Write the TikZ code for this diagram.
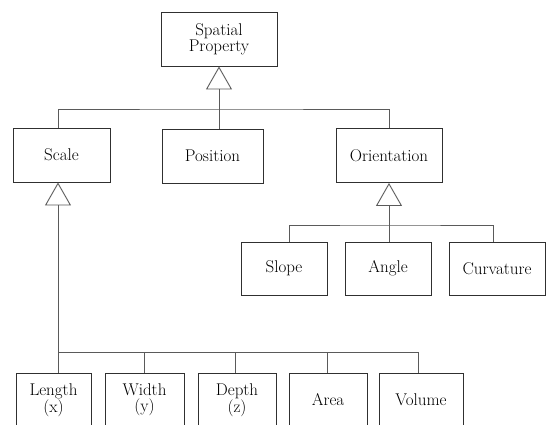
\documentclass[tikz,border=0pt]{standalone}
\usetikzlibrary{arrows.meta}
\definecolor{cbox}{HTML}{303030}
\definecolor{cline}{HTML}{5A5A5A}

\begin{document}
\begin{tikzpicture}[x=1pt, y=-1pt,
    every node/.style={draw=cbox, line width=0.9pt,
      minimum height=54pt, inner sep=0pt,
      font=\fontsize{17}{16}\selectfont, align=center},
    line/.style={draw=cline, line width=0.9pt},
    gen/.style={line, -{Triangle[open, length=23pt, width=26pt, fill=white]}}]
    \useasboundingbox (0,0) rectangle (552,425);
    \clip (0,0) rectangle (552,425);
    % top level
    \node[minimum width=116pt] (sp) at (219,39) {Spatial\\Property};
    \node[minimum width=97pt] (scale) at (61.5,155) {Scale};
    \node[minimum width=101pt] (pos) at (212.5,156) {Position};
    \node[minimum width=106pt] (orient) at (389,155.5) {Orientation};
    % orientation kinds
    \node[minimum width=86pt, minimum height=53pt] (slope) at (284,268.5) {Slope};
    \node[minimum width=86pt, minimum height=53pt] (angle) at (388,268.5) {Angle};
    \node[minimum width=96pt, minimum height=53pt] (curv) at (497,268.5) {Curvature};
    % scale kinds
    \node[minimum width=75pt] (len) at (53.5,400) {Length\\(x)};
    \node[minimum width=79pt] (wid) at (144.5,400) {Width\\(y)};
    \node[minimum width=78pt] (dep) at (237,400) {Depth\\(z)};
    \node[minimum width=78pt] (area) at (328,400) {Area};
    \node[minimum width=84pt] (vol) at (421,400) {Volume};
    % buses
    \coordinate (t1) at (219,109);
    \coordinate (t2) at (58,352);
    \coordinate (t3) at (389,225);
    \draw[gen] (t1) -- (sp);
    \draw[line] ([xshift=-3.5pt]scale.north) |- (t1) -| (orient.north);
    \draw[line] (t1) -- (pos.north -| t1);
    \draw[gen] (t3) -- (orient);
    \draw[line] ([xshift=5pt]slope.north) |- (t3) -| ([xshift=-4pt]curv.north);
    \draw[line] (t3) -- (angle.north -| t3);
    \draw[gen] (t2) -- (scale.south -| t2);
    \draw[line] (len.north -| t2) -- (t2) -| ([xshift=-3pt]vol.north);
    \draw[line] (wid.north) -- (wid.north |- t2);
    \draw[line] ([xshift=-2pt]dep.north) -- ([xshift=-2pt]dep.north |- t2);
    \draw[line] ([xshift=-1pt]area.north) -- ([xshift=-1pt]area.north |- t2);
\end{tikzpicture}
\end{document}
